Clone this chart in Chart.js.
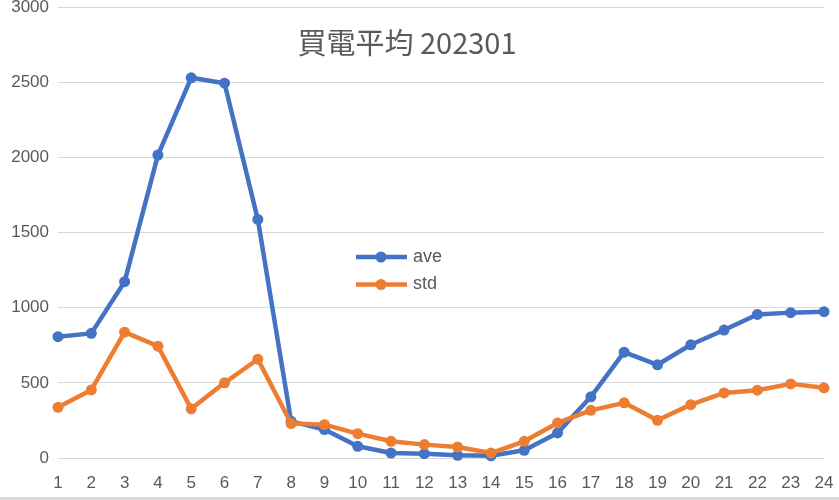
<!DOCTYPE html>
<html>
<head>
<meta charset="utf-8">
<script src="https://cdn.jsdelivr.net/npm/chart.js@4"></script>
<style>
  html, body { margin: 0; padding: 0; background: #fff; }
  #wrap { position: relative; width: 839px; height: 500px; overflow: hidden; }
  #strip { position: absolute; left: 0; top: 497px; width: 839px; height: 3px; background: #dadada; }
</style>
</head>
<body>
<div id="wrap">
  <canvas id="grafico" width="839" height="500"></canvas>
  <div id="strip"></div>
</div>
<script>
// === datos ===
const titulo = "買電平均 202301";
const horas = ["1","2","3","4","5","6","7","8","9","10","11","12","13","14","15","16","17","18","19","20","21","22","23","24"];
const ave = [807, 829, 1173, 2015, 2529, 2493, 1587, 244, 189, 78, 33, 29, 18, 15, 51, 167, 407, 704, 620, 753, 851, 955, 967, 973];
const std = [337, 453, 837, 744, 327, 500, 657, 229, 222, 162, 111, 89, 73, 33, 111, 233, 317, 367, 251, 355, 433, 451, 493, 467];
const nombresSeries = ["ave", "std"];

const AZUL = "#4472C4";
const NARANJA = "#ED7D31";
const GRIS_TEXTO = "#595959";
const FUENTE = "'Liberation Sans', sans-serif";

// titulo dentro del area del grafico
const pluginTitulo = {
  id: "tituloExcel",
  afterDraw(chart) {
    const ctx = chart.ctx;
    ctx.save();
    ctx.font = '29px "Noto Sans CJK TC", "Noto Sans CJK JP", sans-serif';
    ctx.fillStyle = GRIS_TEXTO;
    ctx.textAlign = "center";
    ctx.textBaseline = "middle";
    ctx.fillText(titulo, 407, 43);
    ctx.restore();
  }
};

// leyenda flotante como en Excel
const pluginLeyenda = {
  id: "leyendaExcel",
  afterDraw(chart) {
    const ctx = chart.ctx;
    const filas = [257, 284.5];
    ctx.save();
    chart.data.datasets.forEach((ds, i) => {
      const y = filas[i];
      ctx.strokeStyle = ds.borderColor;
      ctx.lineWidth = 4.5;
      ctx.beginPath();
      ctx.moveTo(356, y);
      ctx.lineTo(407, y);
      ctx.stroke();
      ctx.fillStyle = ds.borderColor;
      ctx.beginPath();
      ctx.arc(381, y, 5.5, 0, Math.PI * 2);
      ctx.fill();
      ctx.fillStyle = GRIS_TEXTO;
      ctx.font = "18px " + FUENTE;
      ctx.textAlign = "left";
      ctx.textBaseline = "middle";
      ctx.fillText(ds.label, 413, y);
    });
    ctx.restore();
  }
};

new Chart(document.getElementById("grafico"), {
  type: "line",
  data: {
    labels: horas,
    datasets: [
      {
        label: nombresSeries[0],
        data: ave,
        borderColor: AZUL,
        backgroundColor: AZUL,
        borderWidth: 4.5,
        pointRadius: 5.5,
        pointBorderWidth: 0,
        borderJoinStyle: "round",
        tension: 0,
        clip: false,
        order: 1
      },
      {
        label: nombresSeries[1],
        data: std,
        borderColor: NARANJA,
        backgroundColor: NARANJA,
        borderWidth: 4.5,
        pointRadius: 5.5,
        pointBorderWidth: 0,
        borderJoinStyle: "round",
        tension: 0,
        clip: false,
        order: 0
      }
    ]
  },
  options: {
    responsive: false,
    animation: false,
    devicePixelRatio: 1,
    layout: { padding: { top: 7, right: 15, bottom: 0, left: 0 } },
    plugins: {
      legend: { display: false },
      title: { display: false },
      tooltip: { enabled: false }
    },
    scales: {
      x: {
        offset: false,
        grid: { display: false, drawTicks: false },
        border: { display: false },
        ticks: {
          color: GRIS_TEXTO,
          font: { family: FUENTE, size: 17 },
          padding: 15,
          maxRotation: 0,
          autoSkip: false
        },
        afterFit(scale) {
          scale.height = 42;
          scale.paddingLeft = 0;
          scale.paddingRight = 0;
        }
      },
      y: {
        min: 0,
        max: 3000,
        grid: { color: "#d9d9d9", lineWidth: 1, drawTicks: false },
        border: { display: false },
        ticks: {
          stepSize: 500,
          color: GRIS_TEXTO,
          font: { family: FUENTE, size: 17 },
          padding: 9,
          callback: (v) => String(v)
        },
        afterFit(scale) {
          scale.width = 58;
          scale.paddingTop = 0;
          scale.paddingBottom = 0;
        }
      }
    }
  },
  plugins: [pluginTitulo, pluginLeyenda]
});
</script>
</body>
</html>
